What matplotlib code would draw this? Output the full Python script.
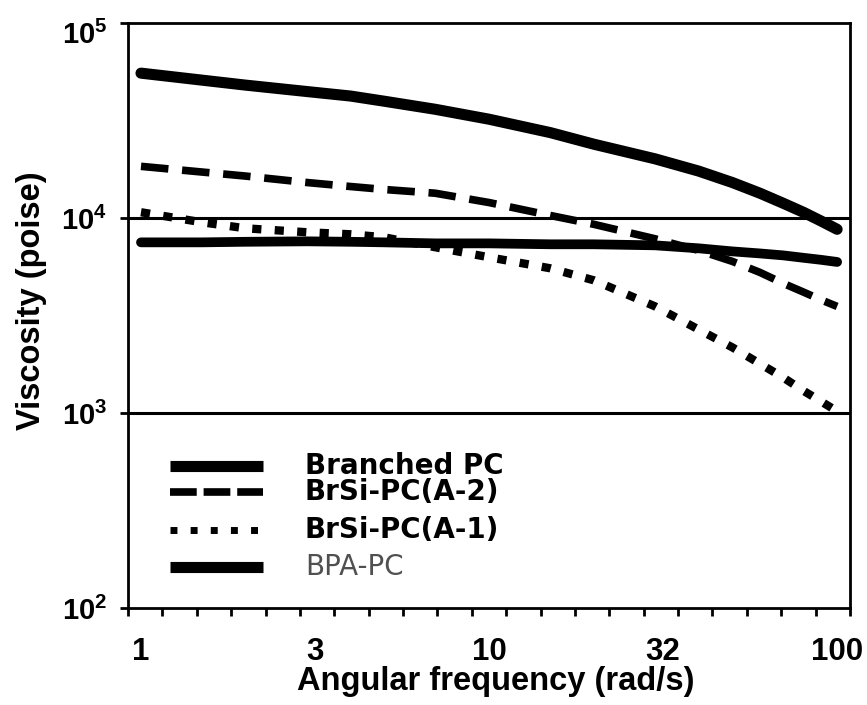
import matplotlib
matplotlib.use("Agg")
import matplotlib.pyplot as plt
import matplotlib.transforms as mtransforms
import numpy as np

plt.rcParams['font.family'] = ['Liberation Sans', 'DejaVu Sans']
plt.rcParams['font.weight'] = 'bold'
plt.rcParams['mathtext.fontset'] = 'custom'
plt.rcParams['mathtext.rm'] = 'Liberation Sans'
plt.rcParams['mathtext.bf'] = 'Liberation Sans:bold'

# angular frequency (rad/s) and complex viscosity (poise)
freq = [1, 1.5, 2, 3, 4, 5, 7, 10, 15, 20, 30, 40, 50, 60, 70, 80, 90, 100]
branched_pc = [55300, 50900, 48000, 44500, 42200, 39700, 36100, 32100,
               27400, 23900, 20100, 17400, 15200, 13400, 11900, 10700, 9640, 8750]
brsi_a2 = [18400, 17200, 16400, 15200, 14500, 14000, 13400, 12000,
           10300, 9280, 7820, 6820, 5990, 5260, 4620, 4170, 3800, 3520]
brsi_a1 = [10700, 9500, 8850, 8450, 8250, 7960, 7080, 6290,
           5520, 4790, 3520, 2680, 2170, 1790, 1520, 1300, 1145, 1020]
bpa_pc = [7500, 7500, 7550, 7590, 7550, 7500, 7410, 7410,
          7330, 7330, 7240, 6990, 6740, 6580, 6430, 6250, 6100, 5950]

series_names = ['Branched PC', 'BrSi-PC(A-2)', 'BrSi-PC(A-1)', 'BPA-PC']
x_tick_vals = [1, 10 ** 0.5, 10, 10 ** 1.5, 100]
x_tick_text = ['1', '3', '10', '32', '100']
y_decades = [2, 3, 4, 5]

fig = plt.figure(figsize=(8.67, 7.05), dpi=100)
ax = fig.add_axes([0.1476, 0.1376, 0.8328, 0.8298])

ax.plot(freq, branched_pc, color='black', lw=8, solid_capstyle='round',
        solid_joinstyle='round', zorder=5)
ax.plot(freq, brsi_a2, color='black', lw=5.5, dashes=(3.6, 1.8),
        dash_capstyle='butt', zorder=4)
ax.plot(freq, brsi_a1, color='black', lw=6, dashes=(1.1, 1.6),
        dash_capstyle='butt', zorder=4)
ax.plot(freq, bpa_pc, color='black', lw=7, solid_capstyle='round',
        solid_joinstyle='round', zorder=5)

ax.set_xscale('log')
ax.set_yscale('log')
lo, hi = -0.0374, 2.037
ax.set_xlim(10 ** lo, 10 ** hi)
ax.set_ylim(1e2, 1e5)

# x axis: evenly spaced short ticks, labels without tick marks
ax.set_xticks(x_tick_vals, labels=x_tick_text)
ax.set_xticks(10 ** np.linspace(lo, hi, 22), minor=True)
ax.xaxis.set_minor_formatter(matplotlib.ticker.NullFormatter())
ax.tick_params(axis='x', which='major', length=0, pad=21, labelsize=22.5)
ax.tick_params(axis='x', which='minor', direction='out', length=6, width=2)

# y axis: decades only
ax.set_yticks([10.0 ** d for d in y_decades],
              labels=[r'$\mathbf{10^{%d}}$' % d for d in y_decades])
ax.yaxis.set_minor_locator(matplotlib.ticker.NullLocator())
ax.tick_params(axis='y', which='major', direction='out', length=6, width=2,
               pad=9, labelsize=21)
top_label = ax.yaxis.get_major_ticks()[-1].label1
top_label.set_transform(top_label.get_transform() +
                        mtransforms.ScaledTranslation(0, -9 / 100, fig.dpi_scale_trans))

for y in (1e3, 1e4):
    ax.axhline(y, color='black', lw=2.2, zorder=2)

for sp in ax.spines.values():
    sp.set_linewidth(2)

ax.set_xlabel('Angular frequency (rad/s)', fontsize=23.5, fontweight='bold')
ax.xaxis.label.set_va('baseline')
ax.xaxis.set_label_coords(0.51, -0.140)
ax.set_ylabel('Viscosity (poise)', fontsize=23.5, fontweight='bold')
ax.yaxis.label.set_va('center')
ax.yaxis.set_label_coords(-0.134, 0.526)

# legend drawn by hand inside the lower left corner
legend_rows = [0.2427, 0.1983, 0.1333, 0.0701]
legend_styles = [
    dict(lw=8, solid_capstyle='butt'),
    dict(lw=5.5, dashes=(3.5, 0.9), dash_capstyle='butt'),
    dict(lw=5, dashes=(1.0, 1.9), dash_capstyle='butt'),
    dict(lw=8, solid_capstyle='butt'),
]
for name, row, style in zip(series_names, legend_rows, legend_styles):
    ax.plot([0.0582, 0.187], [row, row], color='black', transform=ax.transAxes,
            clip_on=False, **style)
    bpa = name == 'BPA-PC'
    ax.text(0.245, row, name, transform=ax.transAxes, va='center', ha='left',
            fontsize=20, family=['DejaVu Sans'],
            fontweight='normal' if bpa else 'bold',
            color='#505050' if bpa else 'black')

fig.savefig('out.png', dpi=100)
